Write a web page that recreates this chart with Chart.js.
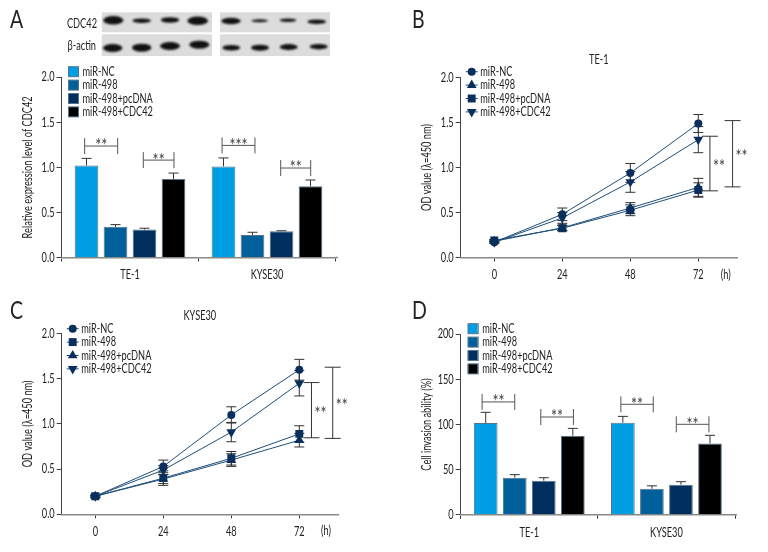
<!DOCTYPE html>
<html>
<head>
<meta charset="utf-8">
<script src="https://cdn.jsdelivr.net/npm/chart.js@4"></script>
<style>
  html, body { margin:0; padding:0; background:#fff; }
  #page { position:relative; width:768px; height:552px; overflow:hidden; font-family:Lato,"Open Sans",sans-serif; color:#222; }
  canvas { position:absolute; }
  .letter { position:absolute; font-size:25px; line-height:25px; transform:scaleX(0.78); transform-origin:left top; }
  .blotlabel { position:absolute; font-size:14px; line-height:14px; width:60px; text-align:right; transform:scaleX(0.66); transform-origin:right top; }
</style>
</head>
<body>
<div id="page">
  <canvas id="blots" width="240" height="50" style="left:100px;top:10px"></canvas>
  <canvas id="chartA" style="left:0;top:0"></canvas>
  <canvas id="chartB" style="left:384px;top:0"></canvas>
  <canvas id="chartC" style="left:0;top:292px"></canvas>
  <canvas id="chartD" style="left:384px;top:292px"></canvas>
  <div class="letter" style="left:10px;top:6px">A</div>
  <div class="letter" style="left:412px;top:6px">B</div>
  <div class="letter" style="left:10px;top:297px">C</div>
  <div class="letter" style="left:412px;top:297px">D</div>
  <div class="blotlabel" style="left:37px;top:16px">CDC42</div>
  <div class="blotlabel" style="left:36px;top:38px">β-actin</div>
</div>
<script>
// no condensed font installed, so squeeze the canvas text sideways
const narrow = 0.71;
const plainFillText = CanvasRenderingContext2D.prototype.fillText;
CanvasRenderingContext2D.prototype.fillText = function(text, x, y) {
  plainFillText.call(this, text, x, y, this.measureText(text).width * narrow);
};

// ---- data ----
const groups = ['TE-1', 'KYSE30'];
const hours = [0, 24, 48, 72];
const seriesNames = ['miR-NC', 'miR-498', 'miR-498+pcDNA', 'miR-498+CDC42'];

// panel A, relative expression of CDC42
const aNC = [1.02, 1.01];
const a498 = [0.34, 0.25];
const aPc = [0.31, 0.29];
const aCdc = [0.87, 0.79];
const aNCErr = [0.08, 0.095];
const a498Err = [0.025, 0.03];
const aPcErr = [0.015, 0.007];
const aCdcErr = [0.067, 0.07];

// panel B, TE-1 OD
const bNC = [0.17, 0.48, 0.94, 1.49];
const b498 = [0.18, 0.33, 0.55, 0.78];
const bPc = [0.19, 0.325, 0.525, 0.75];
const bCdc = [0.17, 0.44, 0.84, 1.31];
const bNCErr = [0.01, 0.07, 0.105, 0.10];
const b498Err = [0.01, 0.03, 0.06, 0.10];
const bPcErr = [0.01, 0.03, 0.06, 0.08];
const bCdcErr = [0.01, 0.06, 0.115, 0.145];

// panel C, KYSE30 OD
const cNC = [0.2, 0.53, 1.10, 1.60];
const c498 = [0.2, 0.40, 0.62, 0.89];
const cPc = [0.2, 0.39, 0.60, 0.82];
const cCdc = [0.2, 0.49, 0.91, 1.45];
const cNCErr = [0.01, 0.07, 0.09, 0.115];
const c498Err = [0.01, 0.08, 0.075, 0.09];
const cPcErr = [0.01, 0.05, 0.07, 0.075];
const cCdcErr = [0.01, 0.05, 0.107, 0.14];

// panel D, cell invasion
const dNC = [101.7, 102];
const d498 = [41, 28.8];
const dPc = [37.7, 33.3];
const dCdc = [87.6, 79];
const dNCErr = [11.8, 7];
const d498Err = [3.4, 3.2];
const dPcErr = [3.3, 3.3];
const dCdcErr = [8.1, 9];

// significance brackets [from, to, level, label]
const aBrackets = [[-0.331, -0.09, 1.237, '**'], [0.097, 0.321, 1.081, '**'], [0.672, 0.912, 1.244, '***'], [1.1, 1.319, 0.993, '**']];
const dBrackets = [[-0.344, -0.106, 125, '**'], [0.084, 0.322, 108.3, '**'], [0.668, 0.904, 122.4, '**'], [1.072, 1.31, 100.2, '**']];
// [position in h, from, to, label]
const bBrackets = [[76.1, 0.741, 1.348, '**'], [84.1, 0.785, 1.522, '**']];
const cBrackets = [[76.3, 0.847, 1.458, '**'], [83.8, 0.84, 1.628, '**']];

const barColors = ['#009fe3', '#00609c', '#002f5f', '#000000'];
const lineColor = '#1f4e79';
const markColor = '#0a2f5c';
const fontName = 'Lato, "Open Sans", sans-serif';
const textColor = '#222';

Chart.defaults.font.family = fontName;
Chart.defaults.font.size = 13;
Chart.defaults.color = textColor;
Chart.defaults.animation = false;

// error bars, brackets, legend: drawn through the chart's own scales
const extras = {
  id: 'extras',
  beforeDatasetsDraw(chart) {
    const ctx = chart.ctx, x = chart.scales.x, y = chart.scales.y;
    const cfg = chart.options.plugins.extras;
    ctx.save();
    ctx.strokeStyle = '#333';
    ctx.lineWidth = 1;
    chart.data.datasets.forEach((ds, i) => {
      const meta = chart.getDatasetMeta(i);
      meta.data.forEach((el, j) => {
        const v = cfg.isBar ? ds.data[j] : ds.data[j].y;
        const e = ds.err[j];
        const top = y.getPixelForValue(v + e);
        const low = cfg.isBar ? y.getPixelForValue(v) : y.getPixelForValue(v - e);
        ctx.beginPath();
        ctx.moveTo(el.x, top); ctx.lineTo(el.x, low);
        ctx.moveTo(el.x - 5, top); ctx.lineTo(el.x + 5, top);
        if (!cfg.isBar) { ctx.moveTo(el.x - 5, low); ctx.lineTo(el.x + 5, low); }
        ctx.stroke();
      });
    });
    ctx.restore();
  },
  afterDraw(chart) {
    const ctx = chart.ctx, x = chart.scales.x, y = chart.scales.y, area = chart.chartArea;
    const cfg = chart.options.plugins.extras;
    ctx.save();
    // axis line runs a bit past the last category
    ctx.strokeStyle = '#888';
    ctx.lineWidth = 1.5;
    ctx.beginPath();
    ctx.moveTo(area.right, area.bottom);
    ctx.lineTo(cfg.axisEnd, area.bottom);
    ctx.stroke();

    ctx.lineWidth = 1;
    ctx.textAlign = 'center';
    ctx.textBaseline = 'middle';
    ctx.font = '20px ' + fontName;
    if (cfg.isBar) {
      ctx.strokeStyle = '#555';
      cfg.brackets.forEach(b => {
        const x0 = x.getPixelForValue(b[0]), x1 = x.getPixelForValue(b[1]), yy = y.getPixelForValue(b[2]);
        ctx.beginPath();
        ctx.moveTo(x0, yy - 8); ctx.lineTo(x0, yy + 8);
        ctx.moveTo(x1, yy - 8); ctx.lineTo(x1, yy + 8);
        ctx.moveTo(x0, yy); ctx.lineTo(x1, yy);
        ctx.stroke();
        ctx.fillStyle = '#444';
        ctx.fillText(b[3], (x0 + x1) / 2, yy);
      });
    } else {
      ctx.strokeStyle = '#333';
      cfg.brackets.forEach(b => {
        const xx = x.getPixelForValue(b[0]), y0 = y.getPixelForValue(b[1]), y1 = y.getPixelForValue(b[2]);
        ctx.beginPath();
        ctx.moveTo(xx - 8, y0); ctx.lineTo(xx + 8, y0);
        ctx.moveTo(xx - 8, y1); ctx.lineTo(xx + 8, y1);
        ctx.moveTo(xx, y0); ctx.lineTo(xx, y1);
        ctx.stroke();
        ctx.fillStyle = '#444';
        ctx.fillText(b[3], xx + 9, (y0 + y1) / 2 + 3);
      });
      ctx.font = '13px ' + fontName;
      ctx.fillStyle = textColor;
      ctx.fillText('(h)', cfg.hourX, area.bottom + 17);
    }

    // legend
    ctx.font = '13px ' + fontName;
    ctx.textAlign = 'left';
    chart.data.datasets.forEach((ds, i) => {
      const rowY = cfg.legendY + i * 13.4;
      if (cfg.isBar) {
        ctx.fillStyle = ds.backgroundColor;
        ctx.strokeStyle = '#55748c';
        ctx.fillRect(cfg.legendX, rowY - 5, 10, 10);
        ctx.strokeRect(cfg.legendX + 0.5, rowY - 5, 10, 10);
      } else {
        ctx.strokeStyle = lineColor;
        ctx.beginPath();
        ctx.moveTo(cfg.legendX, rowY); ctx.lineTo(cfg.legendX + 12, rowY);
        ctx.stroke();
        ctx.fillStyle = markColor;
        Chart.helpers.drawPoint(ctx, { pointStyle: ds.pointStyle, radius: ds.pointRadius, rotation: ds.pointRotation || 0, borderWidth: 0 }, cfg.legendX + 6, rowY);
      }
      ctx.fillStyle = textColor;
      ctx.fillText(ds.label, cfg.legendX + 14.5, rowY);
    });
    ctx.restore();
  }
};

function baseScales(yTitle, plot, size, yMax, yStep, yTitlePad) {
  return {
    y: {
      min: 0, max: yMax,
      ticks: { stepSize: yStep, padding: 2, color: textColor, font: { size: 13 }, callback: v => yMax > 10 ? String(v) : v.toFixed(1) },
      grid: { drawOnChartArea: false, tickLength: 5, tickColor: '#444' },
      border: { color: '#444', width: 1 },
      title: { display: true, text: yTitle, color: textColor, font: { size: 13 }, padding: { top: yTitlePad, bottom: 0 } },
      afterFit(s) { s.width = plot.left; }
    }
  };
}

function barChart(id, size, plot, yTitle, yMax, yStep, series, errs, brackets, legend) {
  const el = document.getElementById(id);
  el.width = size.w; el.height = size.h;
  const scales = baseScales(yTitle, plot, size, yMax, yStep, plot.titlePad);
  scales.x = {
    ticks: { padding: 6, color: textColor, font: { size: 13 }, maxRotation: 0 },
    grid: { drawOnChartArea: false, tickLength: 4, tickColor: '#333' },
    border: { color: '#888', width: 1.5 },
    afterFit(s) { s.height = size.h - plot.bottom; }
  };
  return new Chart(el, {
    type: 'bar',
    data: {
      labels: groups,
      datasets: series.map((vals, i) => ({
        label: seriesNames[i], data: vals, err: errs[i],
        backgroundColor: barColors[i], borderColor: '#55748c', borderWidth: 1,
        categoryPercentage: 0.847, barPercentage: 0.816
      }))
    },
    options: {
      responsive: false,
      layout: { padding: { left: 0, top: plot.top, right: size.w - plot.right, bottom: 0 } },
      plugins: {
        legend: { display: false }, tooltip: { enabled: false }, title: { display: false },
        extras: { isBar: true, brackets: brackets, axisEnd: plot.axisEnd, legendX: legend.x, legendY: legend.y }
      },
      scales: scales
    },
    plugins: [extras]
  });
}

function lineChart(id, size, plot, title, yTitle, series, errs, styles, brackets, legend) {
  const el = document.getElementById(id);
  el.width = size.w; el.height = size.h;
  const scales = baseScales(yTitle, plot, size, 2, 0.5, plot.titlePad);
  scales.x = {
    type: 'linear', min: plot.xMin, max: plot.xMax,
    afterBuildTicks(s) { s.ticks = hours.map(h => ({ value: h })); },
    ticks: { padding: 6, color: textColor, font: { size: 13 }, maxRotation: 0 },
    grid: { drawOnChartArea: false, tickLength: 4, tickColor: '#333' },
    border: { color: '#888', width: 1.5 },
    afterFit(s) { s.height = size.h - plot.bottom; }
  };
  return new Chart(el, {
    type: 'line',
    data: {
      datasets: series.map((vals, i) => ({
        label: seriesNames[i],
        data: vals.map((v, j) => ({ x: hours[j], y: v })),
        err: errs[i],
        borderColor: lineColor, borderWidth: 1, tension: 0,
        pointBackgroundColor: markColor, pointBorderWidth: 0,
        pointStyle: styles[i].style, pointRadius: styles[i].radius, pointRotation: styles[i].rotation || 0
      }))
    },
    options: {
      responsive: false,
      layout: { padding: { left: 0, top: plot.titleTop, right: size.w - plot.right, bottom: 0 } },
      plugins: {
        legend: { display: false }, tooltip: { enabled: false },
        title: { display: true, text: title, color: textColor, font: { size: 13, weight: 'normal' }, fullSize: false, padding: { top: 0, bottom: plot.titleGap } },
        extras: { isBar: false, brackets: brackets, axisEnd: plot.right, legendX: legend.x, legendY: legend.y, hourX: legend.hourX }
      },
      scales: scales
    },
    plugins: [extras]
  });
}

const circle = { style: 'circle', radius: 4 };
const up = { style: 'triangle', radius: 5.6 };
const square = { style: 'rect', radius: 5.6 };
const down = { style: 'triangle', radius: 5.6, rotation: 180 };

barChart('chartA', { w: 384, h: 292 }, { left: 61.5, top: 77.3, right: 335.5, bottom: 257.5, axisEnd: 338, titlePad: 20 },
  'Relative expression level of CDC42', 2, 0.5,
  [aNC, a498, aPc, aCdc], [aNCErr, a498Err, aPcErr, aCdcErr], aBrackets, { x: 68, y: 71.7 });

lineChart('chartB', { w: 384, h: 292 }, { left: 76.7, right: 353, bottom: 257.5, xMin: -11.86, xMax: 85.66, titleTop: 52, titleGap: 10, titlePad: 35 },
  'TE-1', 'OD value (λ=450 nm)',
  [bNC, b498, bPc, bCdc], [bNCErr, b498Err, bPcErr, bCdcErr], [circle, up, square, down], bBrackets, { x: 81.7, y: 71.7, hourX: 341.7 });

lineChart('chartC', { w: 384, h: 260 }, { left: 61.7, right: 338, bottom: 222.3, xMin: -11.86, xMax: 85.66, titleTop: 16, titleGap: 10, titlePad: 20 },
  'KYSE30', 'OD value (λ=450 nm)',
  [cNC, c498, cPc, cCdc], [cNCErr, c498Err, cPcErr, cCdcErr], [circle, square, up, down], cBrackets, { x: 66.7, y: 36.7, hourX: 326 });

barChart('chartD', { w: 384, h: 260 }, { left: 76.7, top: 42.3, right: 351, bottom: 222.7, axisEnd: 353, titlePad: 35 },
  'Cell invasion ability (%)', 200, 50,
  [dNC, d498, dPc, dCdc], [dNCErr, d498Err, dPcErr, dCdcErr], dBrackets, { x: 83.7, y: 36.7 });

// western blot strips above panel A
const blotPanels = [[1.7, 2.3, 110.3, 20], [1.7, 24.3, 110.3, 21.7], [120, 2.3, 110, 20], [120, 24.3, 110, 21.7]];
const blotBands = [
  [13.3, 10.3, 10, 4.3], [41.7, 10.7, 9.2, 2.3], [70, 10, 9.2, 2.7], [97.7, 10.7, 10.3, 4.3],
  [131, 11, 9.7, 3.3], [159.7, 10.7, 8.3, 1.5], [188, 10.3, 8.3, 1.7], [216.7, 11.7, 9.3, 2.3],
  [12.7, 38, 9.7, 4], [41.7, 37.7, 9.7, 4], [70, 36, 10, 4], [99.3, 34.7, 10, 4],
  [131.3, 37.7, 9, 2.8], [160, 37.7, 9, 3], [188.7, 37, 9, 3], [218.7, 36.7, 9, 2.7]
];
const bctx = document.getElementById('blots').getContext('2d');
bctx.fillStyle = '#dcdcdc';
blotPanels.forEach(p => bctx.fillRect(p[0], p[1], p[2], p[3]));
bctx.filter = 'blur(0.8px)';
bctx.fillStyle = '#111';
blotBands.forEach(b => {
  bctx.beginPath();
  bctx.ellipse(b[0], b[1], b[2], b[3], 0, 0, Math.PI * 2);
  bctx.fill();
});
</script>
</body>
</html>
